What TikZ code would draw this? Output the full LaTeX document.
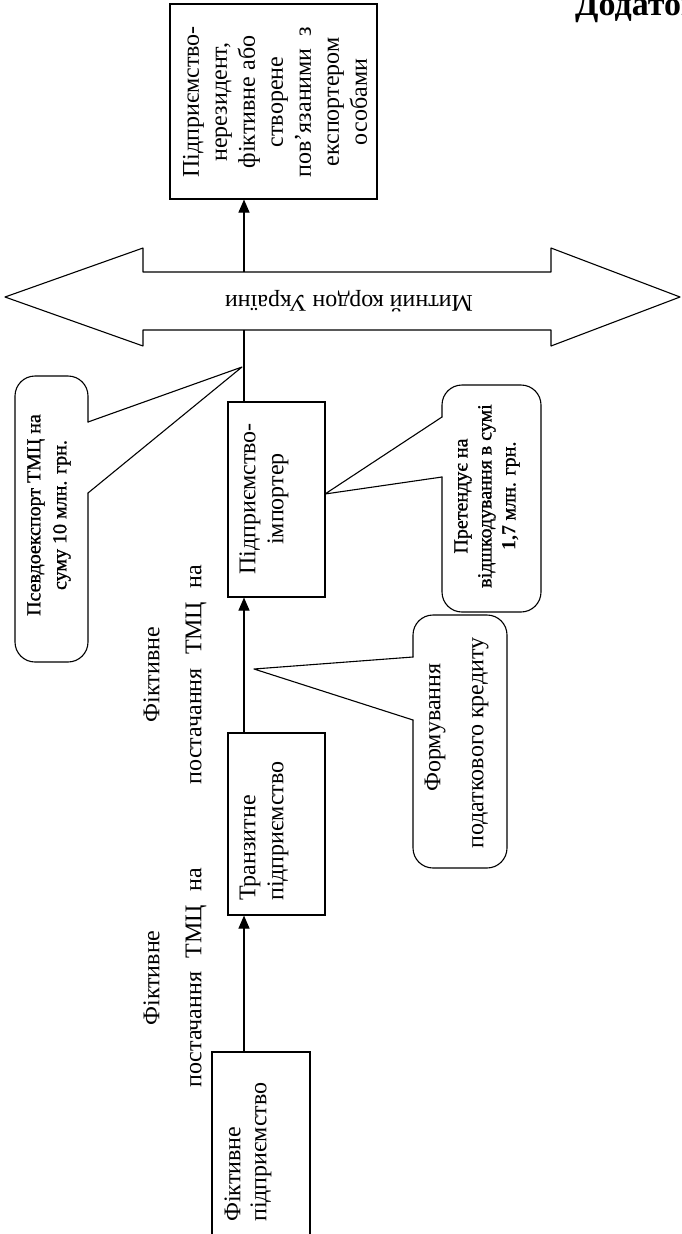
\documentclass[tikz,border=0pt]{standalone}
\usepackage{fontspec}
\setmainfont{Liberation Serif}
\newfontface\calloutfont{Liberation Serif}[FakeBold=1]
\usetikzlibrary{arrows.meta}
\tikzset{
  frame/.style={draw, line width=1.1pt, inner sep=0pt, rectangle},
  conn/.style={line width=1.1pt},
  arr/.style={conn, -{Triangle[length=13pt,width=11pt]}},
  outline/.style={line width=1.1pt, line join=round, line cap=round},
  vtext/.style={rotate=90, inner sep=0pt, align=center, font=\fontsize{24}{28}\selectfont},
  ctext/.style={rotate=90, inner sep=0pt, align=center, font=\calloutfont\fontsize{20}{26}\selectfont},
}
\begin{document}
\begin{tikzpicture}[x=1pt,y=-1pt]
\useasboundingbox (0,0) rectangle (682,1234);
\clip (0,0) rectangle (682,1234);
\coordinate (axis) at (244,0);

% boxes
\node[frame, minimum width=207pt, minimum height=195pt] (nonres) at (273.5,101.5) {};
\node[frame, minimum width=97pt, minimum height=195pt] (imp) at (276.5,499.5) {};
\node[frame, minimum width=97pt, minimum height=182pt] (tr) at (276.5,824) {};
\node[frame, minimum width=98pt, minimum height=200pt] (fk) at (261,1152) {};

% box texts
\node[vtext] (nonrestxt) at (275,102) {Підприємство-\\нерезидент,\\фіктивне або\\створене\\пов’язаними\hspace{12pt}з\\експортером\\особами};
\node[vtext] (imptxt) at (264,499) {Підприємство-\\імпортер};
\node[vtext, align=left, anchor=west] (trtxt) at (264,901) {Транзитне\\підприємство};
\node[vtext, align=left, anchor=west, font=\fontsize{24}{26}\selectfont] (fktxt) at (248,1222) {Фіктивне\\підприємство};

% customs border double arrow
\draw[outline] (5,297) -- (143,248) -- (143,272) -- (551,272) -- (551,248) -- (680,297) -- (551,346) -- (551,330) -- (143,330) -- (143,346) -- cycle;
\node[rotate=180, inner sep=0pt, font=\fontsize{24}{28}\selectfont] (border) at (349,301) {Митний кордон України};
\coordinate (btop) at (244,272);
\coordinate (bbot) at (244,330);

% connectors
\draw[arr] (btop) -- (axis |- nonres.south);
\draw[conn] (bbot) -- (axis |- imp.north);
\draw[arr] (axis |- tr.north) -- (axis |- imp.south);
\draw[arr] (axis |- fk.north) -- (axis |- tr.south);

% callout 1
\coordinate (t1) at (242,367);
\draw[outline, rounded corners=20pt] (88,493) -- (88,662) -- (15,662) -- (15,376) -- (88,376) -- (88,422);
\draw[outline] (88,422) -- (t1) -- (88,493);
\node[ctext] (c1txt) at (49,515) {Псевдоекспорт ТМЦ на\\суму 10 млн. грн.};

% callout 2
\coordinate (t2) at (325,494);
\draw[outline, rounded corners=20pt] (442,417) -- (442,385) -- (541,385) -- (541,612) -- (442,612) -- (442,477);
\draw[outline] (442,417) -- (t2) -- (442,477);
\node[ctext, font=\calloutfont\fontsize{20}{24}\selectfont] (c2txt) at (487,496) {Претендує на\\відшкодування в сумі\\{\normalfont\bfseries 1,7} млн. грн.};

% callout 3
\coordinate (t3) at (254,669);
\draw[outline, rounded corners=20pt] (413,657) -- (413,615) -- (507,615) -- (507,868) -- (413,868) -- (413,720);
\draw[outline] (413,657) -- (t3) -- (413,720);
\node[vtext, font=\fontsize{24}{43}\selectfont] (c3txt) at (456.5,743) {\hspace*{31pt}Формування\\податкового кредиту};

% flow labels
\node[vtext, font=\fontsize{24}{42}\selectfont] (lab1) at (175,674.5) {Фіктивне\\постачання\hspace{13.5pt}ТМЦ\hspace{13.5pt}на};
\node[vtext, font=\fontsize{24}{42}\selectfont] (lab2) at (175,978) {Фіктивне\\постачання\hspace{13.5pt}ТМЦ\hspace{13.5pt}на};

% heading
\node[anchor=base west, inner sep=0pt, font=\fontsize{34}{40}\selectfont\bfseries] (appx) at (575,15) {Додаток};
\end{tikzpicture}
\end{document}
